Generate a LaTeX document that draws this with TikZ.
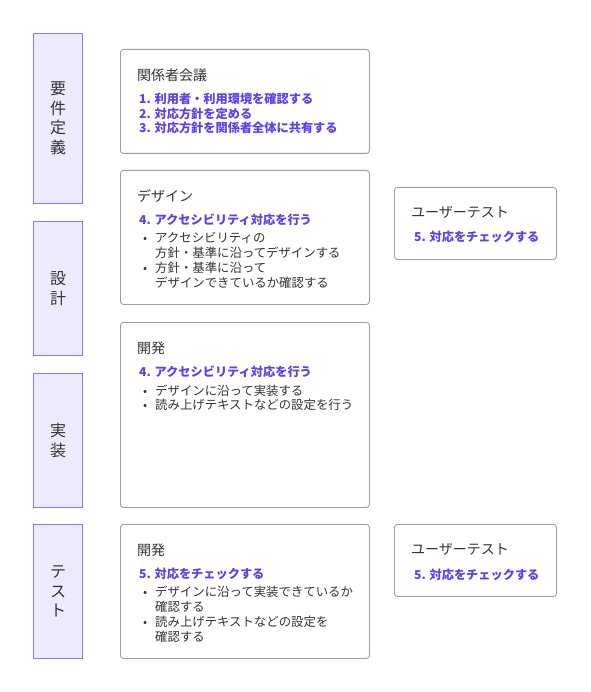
\documentclass[tikz,border=0pt]{standalone}
\usepackage{fontspec}
\setmainfont{Noto Sans CJK JP}
\definecolor{phasef}{HTML}{ECEBFD}
\definecolor{phaseb}{HTML}{8E78F0}
\definecolor{cardb}{HTML}{9E9E9E}
\definecolor{tcol}{HTML}{333333}
\definecolor{bcol}{HTML}{5B40F0}
\tikzset{
  phase/.style={draw=phaseb, fill=phasef, line width=1pt, minimum width=49pt, inner sep=0pt, anchor=north west, align=center, text=tcol, font=\fontsize{16}{19.5}\selectfont},
  card/.style={draw=cardb, fill=white, rounded corners=3pt, line width=0.9pt, inner sep=0pt, anchor=north west},
  ttl/.style={anchor=base west, inner sep=0pt, font=\fontsize{14}{14}\selectfont, text=tcol},
  blu/.style={anchor=base west, inner sep=0pt, font=\fontsize{12.2}{12}\selectfont\bfseries, text=bcol},
  itm/.style={anchor=base west, inner sep=0pt, font=\fontsize{12.4}{12}\selectfont, text=tcol},
  bul/.style={anchor=base west, inner sep=0pt, font=\fontsize{12}{12}\selectfont, text=tcol},
}
\begin{document}
\begin{tikzpicture}[x=1pt, y=-1pt]
\useasboundingbox (0,0) rectangle (590,692);
% phases
\node[phase, minimum height=170pt] (p1) at (33,33) {要\\件\\定\\義};
\node[phase, minimum height=134pt] (p2) at (33,221) {設\\計};
\node[phase, minimum height=134pt] (p3) at (33,373) {実\\装};
\node[phase, minimum height=134pt] (p4) at (33,524) {テ\\ス\\ト};
% cards
\node[card, minimum width=249pt, minimum height=104pt] (c1) at (120,49) {};
\node[card, minimum width=249pt, minimum height=134pt] (c2) at (120,170) {};
\node[card, minimum width=249pt, minimum height=185pt] (c3) at (120,322) {};
\node[card, minimum width=249pt, minimum height=134pt] (c4) at (120,524) {};
\node[card, minimum width=162pt, minimum height=72pt] (u1) at (394,187) {};
\node[card, minimum width=162pt, minimum height=72pt] (u2) at (394,524) {};
% card 1
\node[ttl] (c1t) at (137,81) {関係者会議};
\node[blu] (c1a) at (139,104) {1. 利用者・利用環境を確認する};
\node[blu] (c1b) at (139,118.5) {2. 対応方針を定める};
\node[blu] (c1c) at (139,133) {3. 対応方針を関係者全体に共有する};
% card 2
\node[ttl] (c2t) at (137,202) {デザイン};
\node[blu] (c2a) at (139,224.5) {4. アクセシビリティ対応を行う};
\node[bul] (c2d1) at (143,242.5) {•};
\node[itm] (c2l1) at (155,242.5) {アクセシビリティの};
\node[itm] (c2l2) at (155,257.5) {方針・基準に沿ってデザインする};
\node[bul] (c2d2) at (143,272.5) {•};
\node[itm] (c2l3) at (155,272.5) {方針・基準に沿って};
\node[itm] (c2l4) at (155,287.5) {デザインできているか確認する};
% card 3
\node[ttl] (c3t) at (137,353.5) {開発};
\node[blu] (c3a) at (139,376.5) {4. アクセシビリティ対応を行う};
\node[bul] (c3d1) at (143,395) {•};
\node[itm] (c3l1) at (155,395) {デザインに沿って実装する};
\node[bul] (c3d2) at (143,409.5) {•};
\node[itm] (c3l2) at (155,409.5) {読み上げテキストなどの設定を行う};
% card 4
\node[ttl] (c4t) at (137,555.5) {開発};
\node[blu] (c4a) at (139,578.5) {5. 対応をチェックする};
\node[bul] (c4d1) at (143,596.5) {•};
\node[itm] (c4l1) at (155,596.5) {デザインに沿って実装できているか};
\node[itm] (c4l2) at (155,611) {確認する};
\node[bul] (c4d2) at (143,626) {•};
\node[itm] (c4l3) at (155,626) {読み上げテキストなどの設定を};
\node[itm] (c4l4) at (155,641) {確認する};
% user tests
\node[ttl] (u1t) at (411,217.5) {ユーザーテスト};
\node[blu] (u1a) at (414,241.5) {5. 対応をチェックする};
\node[ttl] (u2t) at (411,554.5) {ユーザーテスト};
\node[blu] (u2a) at (414,579.5) {5. 対応をチェックする};
\end{tikzpicture}
\end{document}
